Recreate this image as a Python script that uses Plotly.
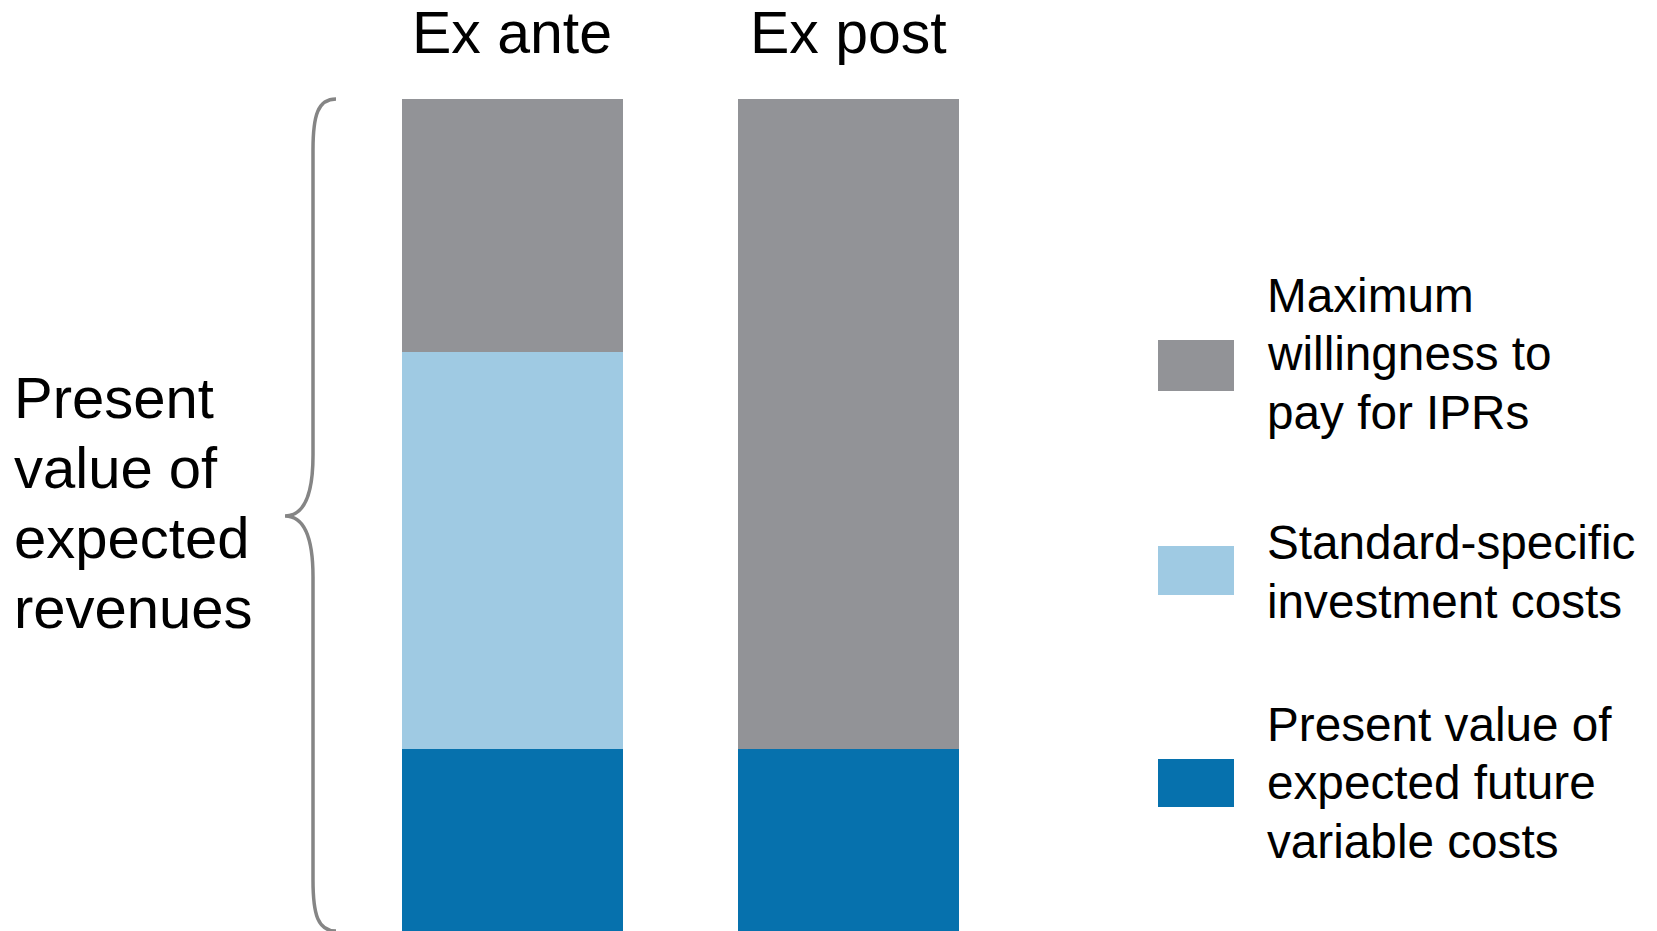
import plotly.graph_objects as go

# ---- data ----
categories = ["Ex ante", "Ex post"]
series_names = [
    "Present value of expected future variable costs",
    "Standard-specific investment costs",
    "Maximum willingness to pay for IPRs",
]
variable_costs = [18.2, 18.2]
investment_costs = [39.7, 0.0]
max_willingness = [25.3, 65.0]
series_values = [variable_costs, investment_costs, max_willingness]
colors = ["#0671AD", "#9FCAE3", "#929397"]

legend_lines = [
    ["Maximum", "willingness to", "pay for IPRs"],
    ["Standard-specific", "investment costs"],
    ["Present value of", "expected future", "variable costs"],
]
legend_colors = ["#929397", "#9FCAE3", "#0671AD"]
left_label_lines = ["Present", "value of", "expected", "revenues"]

W, H = 1657, 931
TOP = 99
total = sum(v[0] for v in series_values)


def px_x(px):
    return px / W


def px_y(py):
    return (H - py) / (H - TOP)


fig = go.Figure()
for name, vals, col in zip(series_names, series_values, colors):
    fig.add_trace(go.Bar(
        x=categories, y=vals, name=name, width=0.66,
        marker=dict(color=col, line=dict(width=0)),
        showlegend=False, hoverinfo="skip",
    ))

FONT = "Liberation Sans, Arial, sans-serif"
annotations = []
# category headers
for c in categories:
    annotations.append(dict(
        x=c, xref="x", y=px_y(33), yref="paper", text=c, showarrow=False,
        xanchor="center", yanchor="middle",
        font=dict(family=FONT, size=59, color="black"),
    ))
# left label
for i, line in enumerate(left_label_lines):
    annotations.append(dict(
        x=px_x(12), xref="paper", y=px_y(397.5 + 70 * i), yref="paper",
        text=line, showarrow=False, xanchor="left", yanchor="middle",
        font=dict(family=FONT, size=58, color="black"),
    ))
# legend
legend_first_line = [295, 542.3, 724]
legend_box = [(340, 391), (546, 595), (759, 807)]
shapes = []
for lines, col, y0, (b0, b1) in zip(legend_lines, legend_colors, legend_first_line, legend_box):
    shapes.append(dict(
        type="rect", xref="paper", yref="paper",
        x0=px_x(1158), x1=px_x(1234), y0=px_y(b1), y1=px_y(b0),
        fillcolor=col, line=dict(width=0),
    ))
    for i, line in enumerate(lines):
        annotations.append(dict(
            x=px_x(1265), xref="paper", y=px_y(y0 + 58.7 * i), yref="paper",
            text=line, showarrow=False, xanchor="left", yanchor="middle",
            font=dict(family=FONT, size=47.7, color="black"),
        ))

# brace (paper x, paper y)
def P(x, y):
    return f"{px_x(x):.5f},{px_y(y):.5f}"

brace = (
    f"M {P(336, 99)} C {P(318, 99)} {P(313, 115)} {P(313, 150)} "
    f"L {P(313, 455)} C {P(313, 500)} {P(302, 516)} {P(285, 516)} "
    f"C {P(302, 516)} {P(313, 532)} {P(313, 577)} "
    f"L {P(313, 880)} C {P(313, 915)} {P(318, 931)} {P(336, 931)}"
)
shapes.append(dict(type="path", xref="paper", yref="paper", path=brace,
                   line=dict(color="#858585", width=3.5)))

fig.update_layout(
    barmode="stack",
    width=W, height=H,
    margin=dict(l=0, r=0, t=TOP, b=0, pad=0),
    paper_bgcolor="white", plot_bgcolor="white",
    xaxis=dict(range=[-1.525, 3.406], showticklabels=False, showgrid=False,
               zeroline=False, showline=False, ticks=""),
    yaxis=dict(range=[0, total], showticklabels=False, showgrid=False,
               zeroline=False, showline=False, ticks=""),
    annotations=annotations,
    shapes=shapes,
)

fig.write_html("out.html")
